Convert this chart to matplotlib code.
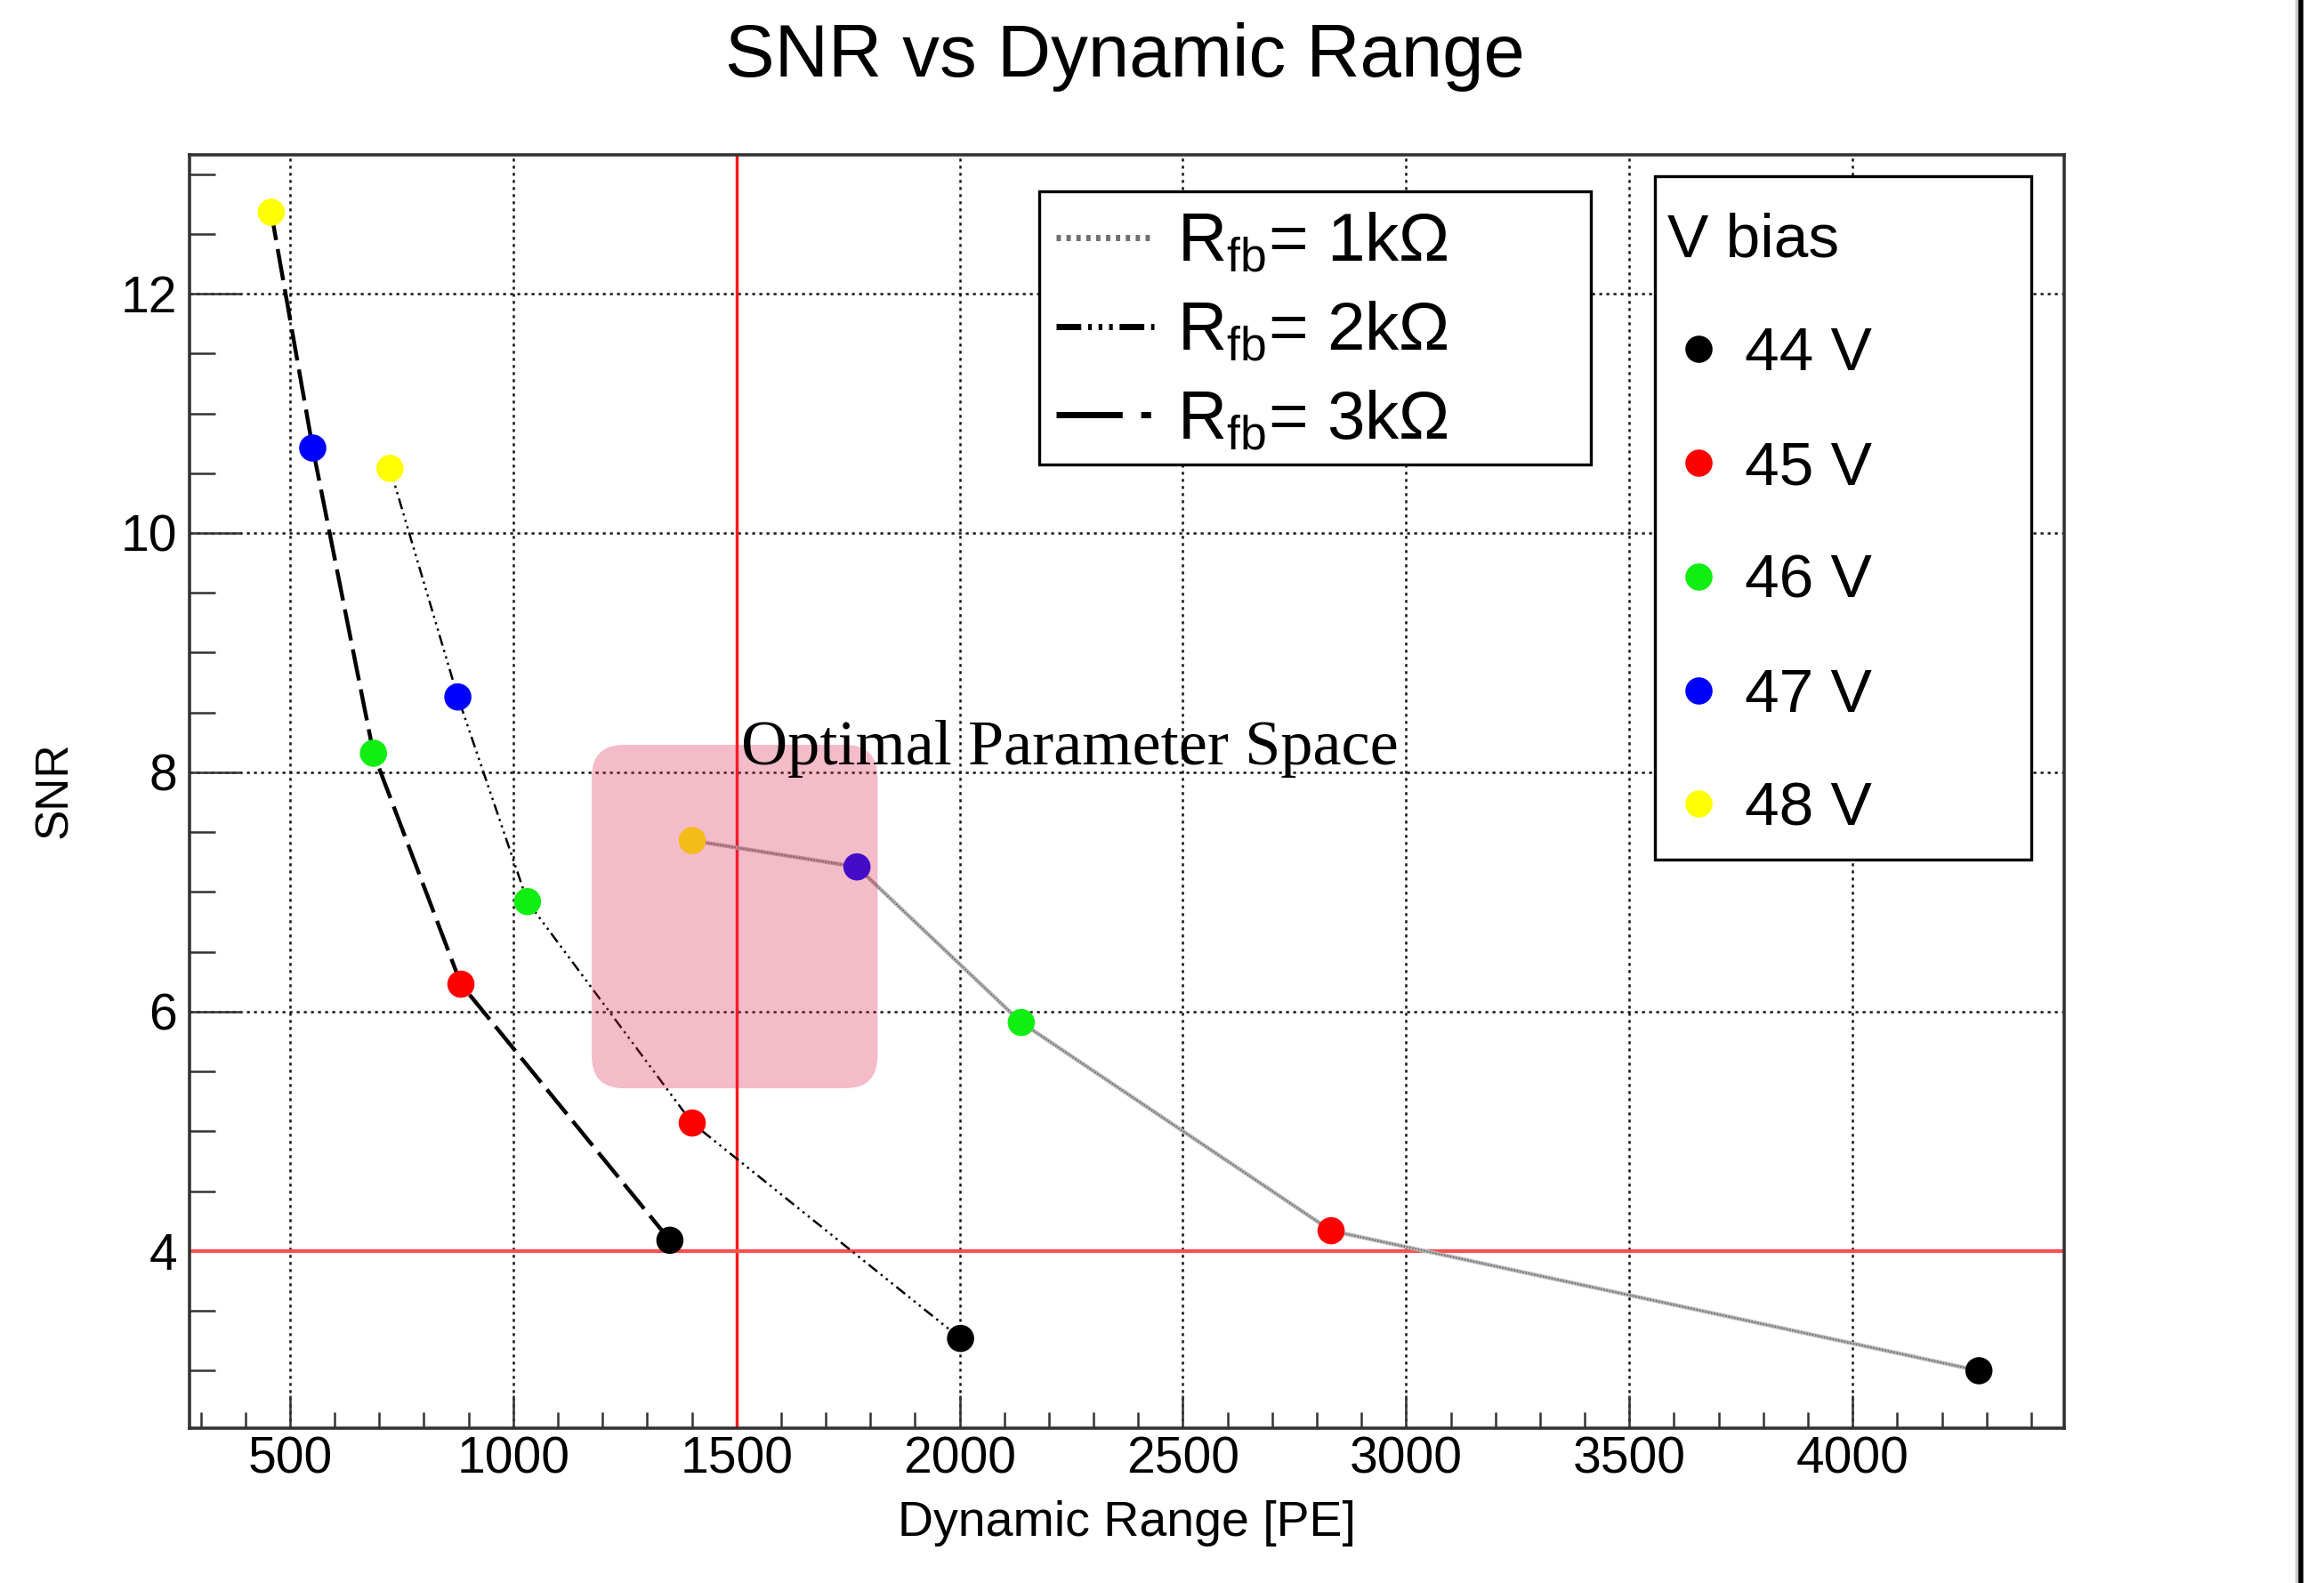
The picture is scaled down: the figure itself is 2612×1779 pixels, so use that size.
import matplotlib
matplotlib.use('Agg')
import matplotlib.pyplot as plt
from matplotlib.lines import Line2D
from matplotlib.patches import FancyBboxPatch, Rectangle
from matplotlib.ticker import MultipleLocator

plt.rcParams['font.family'] = ['Liberation Sans', 'DejaVu Sans']

# ---------------- data ----------------
bias_labels = ['44 V', '45 V', '46 V', '47 V', '48 V']
bias_colors = ['#000000', '#ff0000', '#11ee11', '#0000ff', '#ffff00']

rfb_labels = ['1kΩ', '2kΩ', '3kΩ']
dr_1k = [4283, 2832, 2138, 1770, 1401]
snr_1k = [3.00, 4.17, 5.91, 7.21, 7.43]
dr_2k = [2002, 1401, 1032, 876, 724]
snr_2k = [3.27, 5.07, 6.92, 8.63, 10.54]
dr_3k = [1351, 883, 687, 551, 458]
snr_3k = [4.09, 6.23, 8.16, 10.71, 12.68]

dr_threshold = 1500
snr_threshold = 4
opt_x = [1176, 1816]
opt_y = [5.36, 8.23]
opt_label = 'Optimal Parameter Space'
title = 'SNR vs Dynamic Range'
xlabel = 'Dynamic Range [PE]'
ylabel = 'SNR'
legend_title = 'V bias'

# ---------------- figure ----------------
W, H = 2612, 1779
fig = plt.figure(figsize=(W / 100, H / 100), dpi=100)
ax = fig.add_axes([213 / W, 1 - 1605 / H, (2320 - 213) / W, (1605 - 174) / H])

xlim = (275, 4474)
ylim = (2.52, 13.16)
ax.set_xlim(*xlim)
ax.set_ylim(*ylim)

leg_styles = [
    dict(color='#707070', lw=5, ls=(0, (0.7, 0.9))),
    dict(color='black', lw=5, ls=(0, (4, 1.1, 0.6, 1.1, 0.6, 1.1, 0.6, 1.1))),
    dict(color='black', lw=5, ls=(0, (10.7, 3, 1.6, 3))),
]

# 1 kOhm: light grey band with a fine dotted core
ax.plot(dr_1k, snr_1k, color='#b4b4b4', lw=3.2, zorder=2.4, solid_capstyle='butt')
ax.plot(dr_1k, snr_1k, color='#6a6a6a', lw=1.2, ls=(0, (1, 1)), zorder=2.5)
# 2 kOhm: dash-dot-dot-dot
ax.plot(dr_2k, snr_2k, color='black', lw=1.8, ls=(0, (5, 2, 1, 2, 1, 2, 1, 2)), zorder=2.5)
# 3 kOhm: long dashes
ax.plot(dr_3k, snr_3k, color='black', lw=3.2, ls=(0, (8, 2.3)), zorder=2.5,
        dash_capstyle='butt')

for xs, ys in [(dr_1k, snr_1k), (dr_2k, snr_2k), (dr_3k, snr_3k)]:
    ax.scatter(xs, ys, c=bias_colors, s=22 ** 2, edgecolors='none', zorder=3)

# threshold lines
ax.axvline(dr_threshold, color='#ff1a1a', lw=2.5, zorder=2.2)
ax.axhline(snr_threshold, color='#ff5050', lw=3, zorder=2.2)

# optimal parameter box (drawn on top, translucent)
px_x = (ax.get_position().width * W) / (xlim[1] - xlim[0])
px_y = (ax.get_position().height * H) / (ylim[1] - ylim[0])
aspect = (1 / px_y) / (1 / px_x)
box = FancyBboxPatch((opt_x[0], opt_y[0]), opt_x[1] - opt_x[0], opt_y[1] - opt_y[0],
                     boxstyle='round,pad=0,rounding_size=72', mutation_aspect=aspect,
                     fc=(220 / 255, 38 / 255, 80 / 255), alpha=0.314, ec='none', zorder=5)
ax.add_patch(box)
ax.text(1510, 8.07, opt_label, family='Liberation Serif', fontsize=52,
        ha='left', va='baseline', zorder=6)

# grid / ticks
ax.xaxis.set_major_locator(MultipleLocator(500))
ax.xaxis.set_minor_locator(MultipleLocator(100))
ax.yaxis.set_major_locator(MultipleLocator(2))
ax.yaxis.set_minor_locator(MultipleLocator(0.5))
ax.set_axisbelow(True)
ax.grid(True, which='major', color='#111111', lw=1.8, ls=(0, (1.3, 1.9)))
ax.tick_params(axis='x', which='major', direction='in', length=27, width=1.8,
               color='#333333', labelsize=41, pad=6)
ax.tick_params(axis='x', which='minor', direction='in', length=13, width=1.8, color='#333333')
ax.tick_params(axis='y', which='major', direction='in', length=42, width=1.8,
               color='#333333', labelsize=41, pad=10)
ax.tick_params(axis='y', which='minor', direction='in', length=21, width=1.8, color='#333333')
for sp in ax.spines.values():
    sp.set_linewidth(2.6)
    sp.set_color('#333333')

ax.set_xlabel(xlabel, fontsize=40)
ax.xaxis.set_label_coords(0.5, -0.0846)
ax.xaxis.label.set_verticalalignment('baseline')
ax.set_ylabel(ylabel, fontsize=37)
ax.yaxis.set_label_coords(-0.0717, 0.501)
ax.yaxis.label.set_verticalalignment('center')

fig.text(1264 / W, 1 - 86 / H, title, ha='center', va='baseline', fontsize=60)


def legend_frame(x0, y0, x1, y1):
    """White legend frame given in figure pixels (top-left origin)."""
    r = Rectangle((x0 / W, 1 - y1 / H), (x1 - x0) / W, (y1 - y0) / H,
                  transform=fig.transFigure, fc='white', ec='black', lw=2.4,
                  zorder=4.9, clip_on=False)
    ax.add_patch(r)


# legend 1: feedback resistor
legend_frame(1168, 215, 1788, 522)
h1 = [Line2D([0], [0], color=s['color'], lw=s['lw'], ls=s['ls'],
             dash_capstyle='butt') for s in leg_styles]
l1 = [r'$\mathregular{R_{fb}}$= ' + s for s in rfb_labels]
leg1 = ax.legend(h1, l1, loc='upper left',
                 bbox_to_anchor=(1163 / W, 1 - 522 / H, 620 / W, 307 / H),
                 bbox_transform=fig.transFigure, mode='expand', fontsize=55,
                 frameon=False, borderpad=0.31, borderaxespad=0, handlelength=1.45,
                 handletextpad=0.34, labelspacing=0.37)
ax.add_artist(leg1)

# legend 2: bias voltage
legend_frame(1860, 198, 2283, 966)
h2 = [Line2D([0], [0], marker='o', ls='none', markersize=22, markerfacecolor=c,
             markeredgecolor='none') for c in bias_colors]
leg2 = ax.legend(h2, bias_labels, loc='upper left', title=legend_title,
                 title_fontsize=50, alignment='left',
                 bbox_to_anchor=(1834 / W, 1 - 966 / H, 423 / W, 768 / H),
                 bbox_transform=fig.transFigure, mode='expand', fontsize=50,
                 frameon=False, borderpad=0.58, borderaxespad=0, handlelength=1.0,
                 handletextpad=0.25, labelspacing=0.92)

# right-hand border line of the original canvas
fig.add_artist(Line2D([2581 / W] * 2, [0, 1], transform=fig.transFigure,
                      color='#c8c8c8', lw=2.5))
fig.add_artist(Line2D([2586 / W] * 2, [0, 1], transform=fig.transFigure,
                      color='black', lw=4))

fig.savefig('out.png', dpi=100, facecolor='white')
